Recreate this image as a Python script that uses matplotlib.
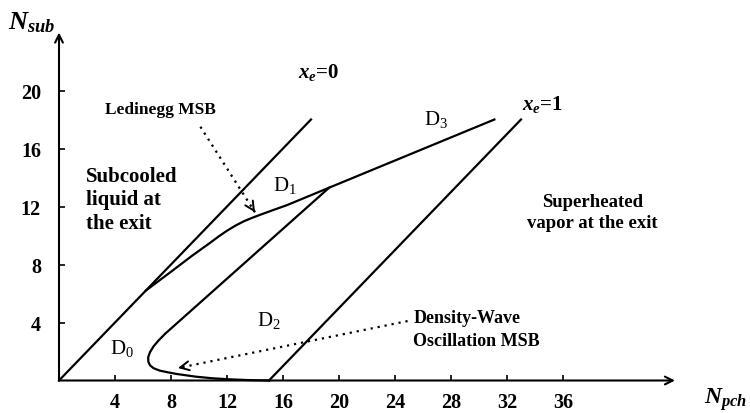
import matplotlib
matplotlib.use('Agg')
import matplotlib.pyplot as plt

plt.rcParams['font.family'] = 'Liberation Serif'
plt.rcParams['mathtext.fontset'] = 'custom'
plt.rcParams['mathtext.rm'] = 'Liberation Serif'
plt.rcParams['mathtext.it'] = 'Liberation Serif:italic:bold'
plt.rcParams['mathtext.bf'] = 'Liberation Serif:bold'

# saturation boundaries (exit quality 0 and 1)
xe0_x = [0, 18]
xe0_y = [0, 18]
xe1_x = [15, 33]
xe1_y = [0, 18]

# Ledinegg stability boundary, D1/D3 upper edge
led_x = [6.2, 8.0, 9.5, 10.8, 11.4, 12.0, 12.6, 13.2, 13.8, 14.4, 15.2, 16.3, 19.3, 31.1]
led_y = [6.2, 7.5, 8.6, 9.5, 9.93, 10.33, 10.68, 10.98, 11.22, 11.44, 11.72, 12.1, 13.3, 18.0]

# density-wave boundary, D0/D2 edge
dw_x = [19.3, 7.6, 7.1, 6.75, 6.5, 6.37, 6.38, 6.5, 6.75, 7.2, 7.8, 8.4,
        9.8, 11.0, 12.2, 13.5, 15.0]
dw_y = [13.3, 3.24, 2.75, 2.35, 1.95, 1.6, 1.3, 1.05, 0.85, 0.68, 0.56, 0.45,
        0.26, 0.15, 0.08, 0.03, 0.0]

xticks = [4, 8, 12, 16, 20, 24, 28, 32, 36]
yticks = [4, 8, 12, 16, 20]

fig = plt.figure(figsize=(7.5, 4.14), dpi=100)
ax = fig.add_axes([59 / 750, 32.5 / 414, 616 / 750, 348 / 414])
ax.set_xlim(0, 44)
ax.set_ylim(0, 24)
for s in ax.spines.values():
    s.set_visible(False)

# axes with arrow heads
ax.annotate('', xy=(1, 0), xytext=(0, 0), xycoords='axes fraction',
            arrowprops=dict(arrowstyle='->', lw=1.5, color='black',
                            shrinkA=0, shrinkB=0, mutation_scale=14))
ax.annotate('', xy=(0, 1), xytext=(0, 0), xycoords='axes fraction',
            arrowprops=dict(arrowstyle='->', lw=1.5, color='black',
                            shrinkA=0, shrinkB=0, mutation_scale=14))

ax.set_xticks(xticks)
ax.set_yticks(yticks)
ax.tick_params(direction='in', length=4, width=1.2, labelsize=14.5)
ax.tick_params(axis='x', pad=8)
ax.tick_params(axis='y', pad=13)
for lab in ax.get_xticklabels() + ax.get_yticklabels():
    lab.set_fontweight('bold')

lw = 1.6
ax.plot(xe0_x, xe0_y, color='black', lw=lw, clip_on=False)
ax.plot(xe1_x, xe1_y, color='black', lw=lw, clip_on=False)
ax.plot(led_x, led_y, color='black', lw=lw, clip_on=False)
ax.plot(dw_x, dw_y, color='black', lw=lw, clip_on=False, solid_joinstyle='round')

# dotted pointers with open heads
def pointer(x0, y0, x1, y1):
    ax.plot([x0, x1], [y0, y1], color='black', lw=1.6, ls=(0, (1, 2.2)))
    ax.annotate('', xy=(x1, y1), xytext=(x1 + (x0 - x1) * 0.02, y1 + (y0 - y1) * 0.02),
                arrowprops=dict(arrowstyle='->', lw=1.4, color='black',
                                shrinkA=0, shrinkB=0, mutation_scale=16))

pointer(10.1, 17.5, 14.0, 11.6)
pointer(24.9, 4.1, 8.5, 0.86)

ax.text(17.1, 21.3, r'$x_e$=0', fontsize=15, fontweight='bold', va='center')
ax.text(33.1, 19.1, r'$x_e$=1', fontsize=15, fontweight='bold', va='center')
ax.text(26.9, 18.1, r'D$_3$', fontsize=15, ha='center', va='center')
ax.text(16.1, 13.5, r'D$_1$', fontsize=15, ha='center', va='center')
ax.text(4.5, 2.3, r'D$_0$', fontsize=15, ha='center', va='center')
ax.text(15.0, 4.2, r'D$_2$', fontsize=15, ha='center', va='center')
ax.text(3.3, 18.7, 'Ledinegg MSB', fontsize=12.5, fontweight='bold', va='center')
ax.text(1.9, 12.5, 'Subcooled\nliquid at\nthe exit', fontsize=15, fontweight='bold',
        va='center', linespacing=1.22)
ax.text(38.1, 11.6, 'Superheated\nvapor at the exit', fontsize=13.5, fontweight='bold',
        ha='center', va='center', linespacing=1.3)
ax.text(25.3, 3.55, 'Density-Wave\nOscillation MSB', fontsize=13, fontweight='bold',
        va='center', linespacing=1.45)

# axis titles
fig.text(8 / 750, 1 - 23 / 414, r'$N_{sub}$', fontsize=19, va='center')
fig.text(704 / 750, 1 - 400 / 414, r'$N_{pch}$', fontsize=17, va='center')

fig.savefig('out.png', dpi=100)
